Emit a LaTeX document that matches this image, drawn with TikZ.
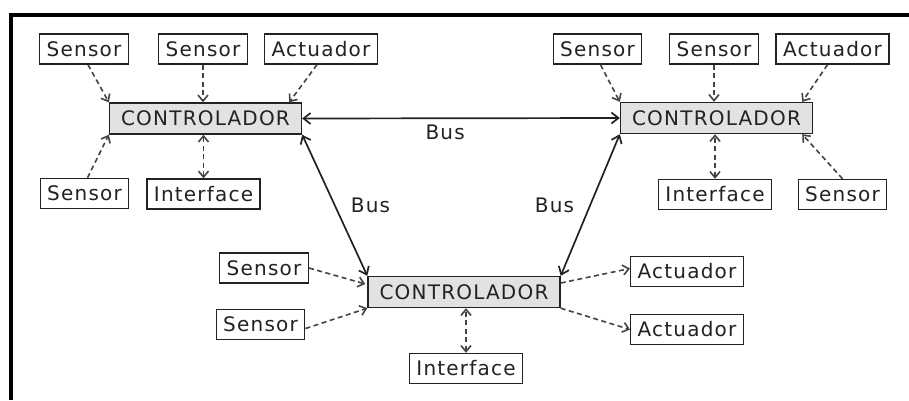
\documentclass[tikz,border=0pt]{standalone}
\usepackage{fontspec}
\newfontfamily\boxfont{DejaVu Sans}[LetterSpace=6]
\usetikzlibrary{arrows.meta}
\definecolor{ink}{HTML}{222222}
\definecolor{ctrlfill}{HTML}{E2E2E2}

\begin{document}
\begin{tikzpicture}[
  x=1pt, y=-1pt,
  font=\boxfont\fontsize{20}{22}\selectfont, text=ink,
  dev/.style={draw=ink, line width=1.4pt, fill=white, minimum height=30pt, inner xsep=7pt, inner ysep=2pt},
  ctrl/.style={dev, fill=ctrlfill, minimum width=192pt, minimum height=31pt},
  bus/.style={draw=ink, line width=1.7pt, {Straight Barb[length=7pt,width=11pt]}-{Straight Barb[length=7pt,width=11pt]}},
  link/.style={draw=ink!85, line width=1.6pt, dash pattern=on 5pt off 3.5pt, -{Straight Barb[length=6pt,width=10pt]}},
  dlink/.style={link, {Straight Barb[length=6pt,width=10pt]}-{Straight Barb[length=6pt,width=10pt]}},
]
\useasboundingbox (0,0) rectangle (909,400);
% frame (top and left edge only)
\draw[line width=4pt, black] (909,14.5) -- (10.5,14.5) -- (10.5,400);

% controllers
\node[ctrl] (tlc) at (205.5,118.5) {CONTROLADOR};
\node[ctrl] (trc) at (716.5,118) {CONTROLADOR};
\node[ctrl] (bc) at (464,292) {CONTROLADOR};

% left cell
\node[dev] (tls1) at (84,49) {Sensor};
\node[dev] (tls2) at (203,49) {Sensor};
\node[dev] (tla) at (321,49) {Actuador};
\node[dev] (tls3) at (84.5,193.5) {Sensor};
\node[dev] (tli) at (203.5,194) {Interface};
\draw[link] ([xshift=4pt]tls1.south) -- (tlc.north west);
\draw[link] (tls2.south) -- (tls2.south |- tlc.north);
\draw[link] ([xshift=-4pt]tla.south) -- ([xshift=-13pt]tlc.north east);
\draw[link] ([xshift=3pt]tls3.north) -- (tlc.south west);
\draw[dlink] (tli.north) -- (tli.north |- tlc.south);

% right cell
\node[dev] (trs1) at (597.5,49) {Sensor};
\node[dev] (trs2) at (714,49) {Sensor};
\node[dev] (tra) at (832.5,49) {Actuador};
\node[dev] (tri) at (715,194.5) {Interface};
\node[dev] (trs3) at (842.5,194.5) {Sensor};
\draw[link] ([xshift=3pt]trs1.south) -- (trc.north west);
\draw[link] (trs2.south) -- (trs2.south |- trc.north);
\draw[link] ([xshift=-5pt]tra.south) -- ([xshift=-11pt]trc.north east);
\draw[dlink] (tri.north) -- (tri.north |- trc.south);
\draw[link] (trs3.north) -- ([xshift=-11pt]trc.south east);

% bottom cell
\node[dev] (bs1) at (264,268) {Sensor};
\node[dev] (bs2) at (260.5,324.5) {Sensor};
\node[dev] (ba1) at (687,271.5) {Actuador};
\node[dev] (ba2) at (687,329.5) {Actuador};
\node[dev] (bi) at (466,368.5) {Interface};
\draw[link] (bs1.east) -- ([yshift=8pt,xshift=-2pt]bc.west);
\draw[link] ([yshift=-4pt]bs2.east) -- (bc.south west);
\draw[link] ([yshift=9pt]bc.east) -- ([yshift=3pt]ba1.west);
\draw[link] (bc.south east) -- (ba2.west);
\draw[dlink] (bi.north) -- (bi.north |- bc.south);

% bus lines
\draw[bus] (tlc.east) -- node[below=2pt, pos=0.45] {Bus} (trc.west);
\draw[bus] (tlc.south east) -- node[right=12pt] {Bus} (bc.north west);
\draw[bus] (trc.south west) -- node[left=12pt] {Bus} (bc.north east);
\end{tikzpicture}
\end{document}
